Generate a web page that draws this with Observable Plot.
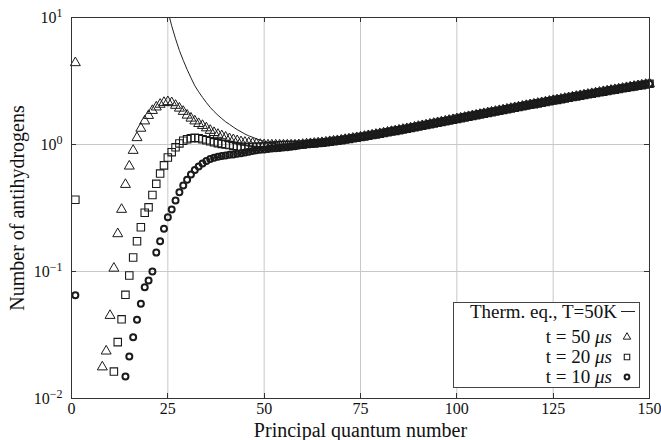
<!DOCTYPE html>
<html><head><meta charset="utf-8">
<script src="https://cdn.jsdelivr.net/npm/d3@7"></script>
<script src="https://cdn.jsdelivr.net/npm/@observablehq/plot@0.6"></script>
<style>body{margin:0;background:#fff} svg text{font-family:'Liberation Serif', serif !important;}</style>
</head><body><div id="chart"></div>
<script>
// ---- data ----
const xTicks = [0, 25, 50, 75, 100, 125, 150];
const yTicks = [0.01, 0.1, 1, 10];
const yTickExp = ["\u22122", "\u22121", "0", "1"];

const isoN = 1;                      // isolated first point of each series
const triIso = 4.4, sqIso = 0.367, circIso = 0.065;

// t = 50 us (triangles), n = 8 .. 60
const triStartN = 8;
const triVals = [0.0177, 0.0236, 0.045, 0.106, 0.198, 0.308, 0.484, 0.675, 0.897, 1.13,
  1.34, 1.53, 1.69, 1.85, 1.97, 2.07, 2.14, 2.17, 2.13, 2.03,
  1.93, 1.82, 1.70, 1.61, 1.53, 1.46, 1.41, 1.35, 1.29, 1.24,
  1.20, 1.17, 1.14, 1.11, 1.09, 1.07, 1.05, 1.04, 1.03, 1.02,
  1.01, 1.0, 0.995, 0.99, 0.99, 0.99, 0.99, 0.99, 0.99, 0.99,
  0.99, 0.995, 1.0];

// t = 20 us (squares), n = 11 .. 60
const sqStartN = 11;
const sqVals = [0.0163, 0.0278, 0.042, 0.0655, 0.093, 0.129, 0.173, 0.223, 0.29, 0.32,
  0.40, 0.49, 0.59, 0.685, 0.79, 0.87, 0.95, 1.02, 1.07, 1.10,
  1.12, 1.13, 1.12, 1.10, 1.08, 1.06, 1.04, 1.025, 1.01, 1.0,
  0.99, 0.975, 0.965, 0.96, 0.955, 0.955, 0.955, 0.96, 0.96, 0.965,
  0.97, 0.975, 0.98, 0.985, 0.99, 0.99, 0.99, 0.99, 0.995, 1.0];

// t = 10 us (circles), n = 14 .. 60
const circStartN = 14;
const circVals = [0.0149, 0.0214, 0.0304, 0.0417, 0.0557, 0.0752, 0.085, 0.10, 0.141, 0.173,
  0.217, 0.268, 0.308, 0.362, 0.421, 0.475, 0.527, 0.581, 0.63, 0.67,
  0.71, 0.74, 0.77, 0.785, 0.80, 0.81, 0.82, 0.83, 0.835, 0.845,
  0.855, 0.865, 0.875, 0.89, 0.90, 0.91, 0.915, 0.92, 0.93, 0.935,
  0.94, 0.945, 0.95, 0.96, 0.97, 0.98, 0.99];

// thermal equilibrium T = 50 K, n = 25 .. 60
const thermStartN = 25;
const thermVals = [11.3, 8.6, 6.8, 5.5, 4.6, 3.9, 3.35, 2.9, 2.6, 2.35,
  2.14, 1.96, 1.82, 1.70, 1.60, 1.51, 1.44, 1.37, 1.31, 1.26,
  1.21, 1.17, 1.14, 1.11, 1.08, 1.06, 1.04, 1.025, 1.01, 1.0,
  0.995, 0.99, 0.99, 0.99, 0.995, 1.0];

// common values of all curves, n = 61 .. 150
const tailStartN = 61;
const tailVals = [1.009, 1.015, 1.021, 1.028, 1.034, 1.043, 1.053, 1.063, 1.072, 1.082,
  1.094, 1.106, 1.119, 1.131, 1.144, 1.158, 1.172, 1.187, 1.201, 1.216,
  1.232, 1.248, 1.264, 1.280, 1.297, 1.314, 1.332, 1.350, 1.368, 1.387,
  1.406, 1.425, 1.445, 1.465, 1.485, 1.506, 1.527, 1.548, 1.569, 1.591,
  1.613, 1.635, 1.657, 1.680, 1.703, 1.726, 1.750, 1.773, 1.798, 1.822,
  1.847, 1.872, 1.897, 1.922, 1.948, 1.974, 2.000, 2.026, 2.053, 2.080,
  2.107, 2.134, 2.162, 2.190, 2.218, 2.246, 2.275, 2.304, 2.333, 2.363,
  2.393, 2.422, 2.453, 2.483, 2.514, 2.545, 2.576, 2.607, 2.639, 2.671,
  2.703, 2.736, 2.768, 2.801, 2.835, 2.868, 2.901, 2.935, 2.969, 3.003];

// ---- tables ----
const tailRows = tailVals.map((v, i) => ({n: tailStartN + i, v}));
function series(startN, vals, iso) {
  const rows = vals.map((v, i) => ({n: startN + i, v}));
  return (iso == null ? [] : [{n: isoN, v: iso}]).concat(rows, tailRows);
}
const tri = series(triStartN, triVals, triIso);
const sq = series(sqStartN, sqVals, sqIso);
const circ = series(circStartN, circVals, circIso);
const therm = series(thermStartN, thermVals, null);

const ink = "#1a1a1a";
const serif = "'Liberation Serif', serif";
const chart = Plot.plot({
  width: 661, height: 440,
  marginLeft: 71, marginRight: 12, marginTop: 17, marginBottom: 42,
  style: {fontFamily: serif, fontSize: "16px", color: "#111", background: "#fff"},
  x: {domain: [0, 150]},
  y: {type: "log", domain: [0.01, 10]},
  marks: [
    Plot.gridX(xTicks.slice(1, -1), {stroke: "#c8c8c8", strokeOpacity: 1, strokeWidth: 1}),
    Plot.gridY(yTicks.slice(1, -1), {stroke: "#c8c8c8", strokeOpacity: 1, strokeWidth: 1}),
    Plot.line(therm, {x: "n", y: "v", stroke: "#222", strokeWidth: 1, clip: true}),
    Plot.dot(circ, {x: "n", y: "v", symbol: "circle", r: 3, stroke: ink, strokeWidth: 2, fill: "none"}),
    Plot.dot(sq, {x: "n", y: "v", symbol: "square", r: 4.2, stroke: ink, strokeWidth: 1.1, fill: "none"}),
    Plot.dot(tri, {x: "n", y: "v", symbol: "triangle", r: 3.7, stroke: ink, strokeWidth: 1, fill: "none"}),
    Plot.frame({stroke: "#333", strokeWidth: 1}),
    Plot.axisX(xTicks, {tickSize: 0, tickPadding: 4, label: null, fontSize: 16, fontFamily: serif}),
    Plot.axisY(yTicks, {tickSize: 0, tickPadding: 9, label: null, fontSize: 16, fontFamily: serif,
      tickFormat: d => yTickExp[yTicks.indexOf(d)]}),
    Plot.text(["Principal quantum number"], {frameAnchor: "bottom", dy: 24, lineAnchor: "top",
      textAnchor: "middle", fontSize: 20, fontFamily: serif, fill: "#111"}),
    Plot.text(["Number of antihydrogens"], {frameAnchor: "left", dx: -54, rotate: -90,
      textAnchor: "middle", fontSize: 20, fontFamily: serif, fill: "#111"})
  ]
});
document.getElementById("chart").appendChild(chart);

// ---- post-processing: superscript y tick labels, inward ticks, legend ----
const svg = d3.select(chart);
svg.selectAll('g[aria-label="y-axis tick label"] text').each(function () {
  const t = d3.select(this);
  const exp = t.text();
  t.text(null);
  t.append("tspan").text("10");
  t.append("tspan").attr("dy", "-0.45em").attr("font-size", 12).text(exp);
});

const xs = chart.scale("x"), ys = chart.scale("y");
const [x0, x1] = xs.range, [y0, y1] = ys.range; // y0 bottom, y1 top
const tk = svg.append("g").attr("stroke", "#333").attr("stroke-width", 1);
const L = 5;
xTicks.forEach(t => {
  const x = Math.round(xs.apply(t)) + 0.5;
  tk.append("line").attr("x1", x).attr("x2", x).attr("y1", y0).attr("y2", y0 - L);
  tk.append("line").attr("x1", x).attr("x2", x).attr("y1", y1).attr("y2", y1 + L);
});
yTicks.forEach(t => {
  const y = Math.round(ys.apply(t)) + 0.5;
  tk.append("line").attr("y1", y).attr("y2", y).attr("x1", x0).attr("x2", x0 + L);
  tk.append("line").attr("y1", y).attr("y2", y).attr("x1", x1).attr("x2", x1 - L);
});

const lg = svg.append("g").attr("font-family", serif).attr("font-size", 19).attr("fill", "#111");
lg.append("rect").attr("x", 453.5).attr("y", 302.5).attr("width", 186).attr("height", 85)
  .attr("fill", "#fff").attr("stroke", "#444").attr("stroke-width", 1);
lg.append("text").attr("x", 617).attr("y", 318).attr("text-anchor", "end").text("Therm. eq., T=50K");
lg.append("line").attr("x1", 621).attr("x2", 635).attr("y1", 311.5).attr("y2", 311.5).attr("stroke", "#222");
const legendRows = [
  {label: "t = 50 ", sym: d3.symbolTriangle, size: 24, sw: 1, y: 337},
  {label: "t = 20 ", sym: d3.symbolSquare, size: 30, sw: 1.1, y: 357},
  {label: "t = 10 ", sym: d3.symbolCircle, size: 18, sw: 2, y: 377}
];
legendRows.forEach(r => {
  const t = lg.append("text").attr("x", 612).attr("y", r.y + 6).attr("text-anchor", "end");
  t.append("tspan").text(r.label);
  t.append("tspan").attr("font-style", "italic").text("\u03bcs");
  lg.append("path").attr("d", d3.symbol(r.sym, r.size)()).attr("transform", `translate(627,${r.y})`)
    .attr("fill", "none").attr("stroke", ink).attr("stroke-width", r.sw);
});
</script>
</body></html>
